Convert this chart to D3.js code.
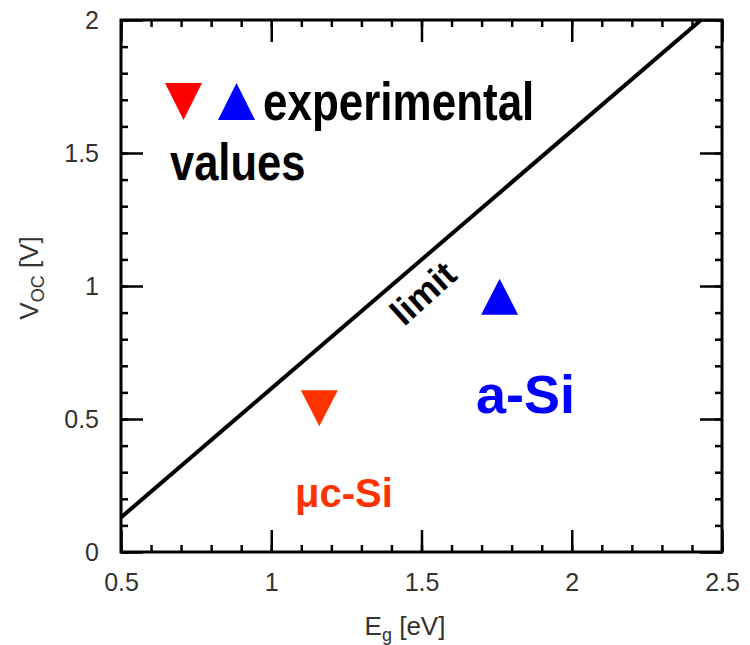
<!DOCTYPE html>
<html>
<head>
<meta charset="utf-8">
<script src="https://cdn.jsdelivr.net/npm/d3@7"></script>
<style>
    body { margin: 0; background: #fff; }
    svg { display: block; font-family: "Liberation Sans", Arial, sans-serif; }
</style>
</head>
<body>
<svg id="chart" width="750" height="645"></svg>
<script>
// chart values
var xMajor = [0.5, 1, 1.5, 2, 2.5];
var yMajor = [0, 0.5, 1, 1.5, 2];
var limitEg = [0.5, 2.43];
var limitVoc = [0.13, 2.0];
var sampleNames = ["μc-Si", "a-Si"];
var sampleEg = [1.16, 1.76];
var sampleVoc = [0.54, 0.96];
var sampleDir = ["down", "up"];

(function () {
    var svg = d3.select("#chart");
    var left = 121, right = 722, top = 20, bottom = 552;

    var x = d3.scaleLinear().domain([0.5, 2.5]).range([left, right]);
    var y = d3.scaleLinear().domain([0, 2]).range([bottom, top]);

    function tri(cx, cy, dir, w, h) {
        var hw = w / 2, hh = h / 2;
        if (dir == "down")
            return "M" + (cx - hw) + "," + (cy - hh) + "L" + (cx + hw) + "," + (cy - hh) + "L" + cx + "," + (cy + hh) + "Z";
        return "M" + (cx - hw) + "," + (cy + hh) + "L" + (cx + hw) + "," + (cy + hh) + "L" + cx + "," + (cy - hh) + "Z";
    }

    // minor ticks, all four sides, pointing inward
    var minorX = x.ticks(20), minorY = y.ticks(20);
    var axes = [
        [d3.axisBottom(x), "translate(0," + bottom + ")", minorX],
        [d3.axisTop(x), "translate(0," + top + ")", minorX],
        [d3.axisLeft(y), "translate(" + left + ",0)", minorY],
        [d3.axisRight(y), "translate(" + right + ",0)", minorY]
    ];
    axes.forEach(function (a) {
        var g = svg.append("g").attr("transform", a[1])
            .call(a[0].tickValues(a[2]).tickSizeInner(-7).tickSizeOuter(0).tickFormat(""));
        g.select(".domain").remove();
        g.selectAll("line").attr("stroke", "#000").attr("stroke-width", 2.5);
    });

    // major ticks
    var gx = svg.append("g").attr("transform", "translate(0," + bottom + ")")
        .call(d3.axisBottom(x).tickValues(xMajor).tickSizeInner(-22).tickSizeOuter(0).tickPadding(21)
            .tickFormat(function (d) { return d; }));
    var gy = svg.append("g").attr("transform", "translate(" + left + ",0)")
        .call(d3.axisLeft(y).tickValues(yMajor).tickSizeInner(-22).tickSizeOuter(0).tickPadding(22)
            .tickFormat(function (d) { return d; }));
    var gt = svg.append("g").attr("transform", "translate(0," + top + ")")
        .call(d3.axisTop(x).tickValues(xMajor).tickSizeInner(-22).tickSizeOuter(0).tickFormat(""));
    var gr = svg.append("g").attr("transform", "translate(" + right + ",0)")
        .call(d3.axisRight(y).tickValues(yMajor).tickSizeInner(-22).tickSizeOuter(0).tickFormat(""));

    [gx, gy, gt, gr].forEach(function (g) {
        g.select(".domain").remove();
        g.selectAll("line").attr("stroke", "#000").attr("stroke-width", 2.5);
        g.selectAll("text").attr("font-size", 25).attr("fill", "#333")
            .attr("font-family", "'Liberation Sans', Arial, sans-serif");
    });

    // frame
    svg.append("rect")
        .attr("x", left).attr("y", top)
        .attr("width", right - left).attr("height", bottom - top)
        .attr("fill", "none").attr("stroke", "#000").attr("stroke-width", 3);

    // axis titles
    var xl = svg.append("text").attr("x", 405).attr("y", 635)
        .attr("text-anchor", "middle").attr("font-size", 26).attr("fill", "#333");
    xl.append("tspan").text("E");
    xl.append("tspan").attr("font-size", 18).attr("dy", 6).text("g");
    xl.append("tspan").attr("dy", -6).text(" [eV]");

    var yl = svg.append("text").attr("transform", "translate(38,278) rotate(-90)")
        .attr("text-anchor", "middle").attr("font-size", 26).attr("fill", "#333");
    yl.append("tspan").text("V");
    yl.append("tspan").attr("font-size", 18).attr("dy", 6).text("OC");
    yl.append("tspan").attr("dy", -6).text(" [V]");

    // limit line
    var line = d3.line()
        .x(function (d) { return x(d[0]); })
        .y(function (d) { return y(d[1]); });
    svg.append("path")
        .datum(d3.zip(limitEg, limitVoc))
        .attr("d", line)
        .attr("fill", "none").attr("stroke", "#000").attr("stroke-width", 4);

    svg.append("text")
        .attr("transform", "translate(423,293) rotate(-42)")
        .attr("text-anchor", "middle").attr("dy", "0.35em")
        .attr("font-size", 36).attr("font-weight", "bold").attr("fill", "#000")
        .text("limit");

    // experimental points
    var colors = ["#ff3300", "#0000ff"];
    svg.selectAll("path.sample")
        .data(sampleNames)
        .enter().append("path")
        .attr("class", "sample")
        .attr("d", function (d, i) { return tri(x(sampleEg[i]), y(sampleVoc[i]), sampleDir[i], 37, 36); })
        .attr("fill", function (d, i) { return colors[i]; });

    svg.append("text").attr("x", 295).attr("y", 507)
        .attr("font-size", 40).attr("font-weight", "bold").attr("fill", colors[0])
        .text(sampleNames[0]);
    svg.append("text").attr("x", 476).attr("y", 413)
        .attr("font-size", 54).attr("font-weight", "bold").attr("fill", colors[1])
        .text(sampleNames[1]);

    // legend
    svg.append("path").attr("d", tri(183.5, 101.5, "down", 37, 37)).attr("fill", "#ff0000");
    svg.append("path").attr("d", tri(236.5, 101.5, "up", 37, 37)).attr("fill", "#0000ff");
    svg.append("text").attr("transform", "translate(263,120) scale(1,1.2)")
        .attr("font-size", 44).attr("font-weight", "bold").attr("fill", "#000")
        .text("experimental");
    svg.append("text").attr("transform", "translate(170,180) scale(1,1.2)")
        .attr("font-size", 43.5).attr("font-weight", "bold").attr("fill", "#000")
        .text("values");
})();
</script>
</body>
</html>
